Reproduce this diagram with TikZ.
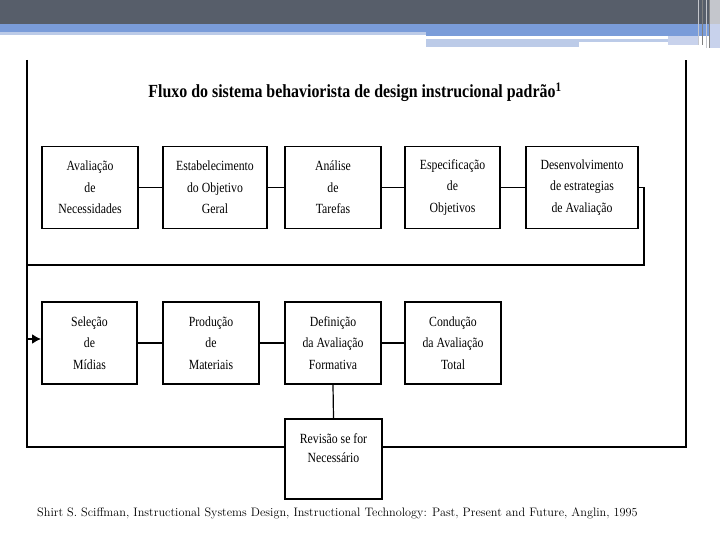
\documentclass[tikz,border=0pt]{standalone}
\usepackage{fontspec}
\usepackage{graphicx}
\usetikzlibrary{arrows.meta}
\newfontfamily\boxfont[FakeStretch=0.84]{Liberation Serif}
\newfontfamily\titlefont[FakeStretch=0.86]{Liberation Serif}
\definecolor{hdark}{HTML}{575E6A}
\definecolor{hblue}{HTML}{7A9CD9}
\definecolor{hlight}{HTML}{BCCBE8}
\definecolor{hpale}{HTML}{C8D2EC}
\definecolor{hgray}{HTML}{C4C6CC}
\tikzset{
  bx/.style={draw, line width=1.8pt, minimum height=82pt, align=center, inner sep=0pt, fill=white,
    font=\boxfont\fontsize{14}{21.5}\selectfont},
  btext/.style={align=center, inner sep=0pt, font=\boxfont\fontsize{14}{19.5}\selectfont},
  ln/.style={line width=1.6pt},
  frame/.style={line width=1.4pt}
}
\begin{document}
\begin{tikzpicture}[x=1pt,y=-1pt]
\useasboundingbox (0,0) rectangle (720,540);
% header
\fill[white] (0,0) rectangle (720,540);
\fill[hdark] (0,0) rectangle (720,24);
\fill[hblue] (0,24) rectangle (720,32);
\fill[hlight] (0,32) rectangle (426,35);
\fill[hblue] (426,32) rectangle (720,36);
\fill[hlight] (426,39) rectangle (668,42);
\fill[hlight] (426,42) rectangle (579,47);
\fill[hpale] (668,36) rectangle (698,45);
\fill[hgray] (709,0) rectangle (720,48);
\fill[hpale] (709,24) rectangle (720,48);
\draw[hgray, line width=1pt] (698,0) -- (698,45);
\draw[gray, line width=0.8pt] (702,0) -- (702,45);
\draw[hgray, line width=1pt] (706,0) -- (706,48);
\draw[gray, line width=0.8pt] (709,0) -- (709,48);
% frame
\draw[frame] (27,60) -- (27,447) -- (686,447) -- (686,60);
% title
\node[inner sep=0pt] (title) at (355,92) {\titlefont\fontsize{18.5}{20}\selectfont\bfseries Fluxo do sistema behaviorista de design instrucional padrão\textsuperscript{1}};
% row 1
\node[bx, minimum width=96pt] (B1) at (90,187.5) {Avaliação\\de\\Necessidades};
\node[bx, minimum width=104pt] (B2) at (215,187.5) {Estabelecimento\\do Objetivo\\Geral};
\node[bx, minimum width=96pt] (B3) at (333,187.5) {Análise\\de\\Tarefas};
\node[bx, minimum width=95pt] (B4) at (452.5,187.5) {Especificação\\de\\Objetivos};
\node[bx, minimum width=112pt] (B5) at (582,187.5) {Desenvolvimento\\de estrategias\\de Avaliação};
% row 2
\node[bx, minimum width=95pt] (C1) at (89.5,343) {Seleção\\de\\Mídias};
\node[bx, minimum width=96pt] (C2) at (211,343) {Produção\\de\\Materiais};
\node[bx, minimum width=96pt] (C3) at (333,343) {Definição\\da Avaliação\\Formativa};
\node[bx, minimum width=96pt] (C4) at (453,343) {Condução\\da Avaliação\\Total};
% revision
\node[bx, minimum width=97pt, minimum height=80pt] (R) at (333.5,459) {};
\node[btext, anchor=north] (Rt) at ([yshift=-15pt]R.north) {Revisão se for\\Necessário};
% connectors row 1
\draw[ln] (B1) -- (B2);
\draw[ln] (B2) -- (B3);
\draw[ln] (B3) -- (B4);
\draw[ln] (B4) -- (B5);
\coordinate (k1) at (644,265);
\coordinate (k2) at (27,265);
\coordinate (k3) at (27,268);
\coordinate (k4) at (27,339);
\draw[ln] (B5.east) -| (k1) -- (k2);
\draw[line width=2.8pt] (k3) -- (k4);
\draw[line width=2.4pt, -{Latex[length=9pt,width=10pt]}] (k4) -- (k4 -| C1.west);
% connectors row 2
\draw[ln] (C1) -- (C2);
\draw[ln] (C2) -- (C3);
\draw[ln] (C3) -- (C4);
\draw[line width=1.2pt] (C3.south) -- (R.north);
% caption
\node[inner sep=0pt, anchor=west] (cap) at (37,513) {\fontsize{12.25}{14}\selectfont Shirt S. Sciffman, Instructional Systems Design, Instructional Technology: Past, Present and Future, Anglin, \oldstylenums{1995}};
\end{tikzpicture}
\end{document}
